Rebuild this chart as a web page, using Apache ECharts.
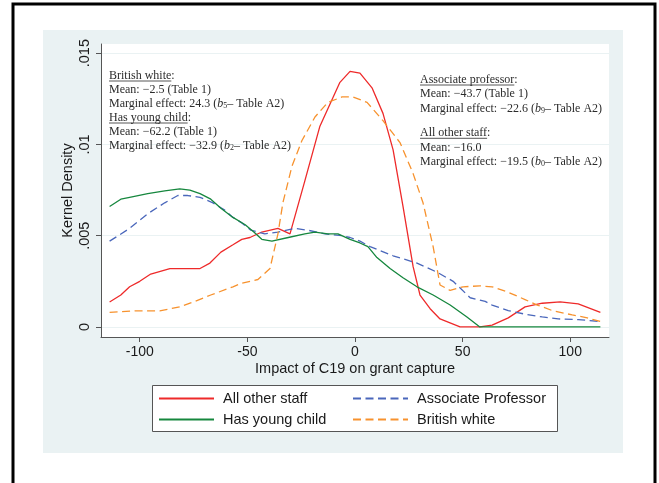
<!DOCTYPE html>
<html>
<head>
<meta charset="utf-8">
<title>Kernel density of C19 impact</title>
<script src="https://cdn.jsdelivr.net/npm/echarts@6/dist/echarts.min.js"></script>
<style>
  html, body { margin: 0; padding: 0; background: #fff; }
  #chart { width: 659px; height: 483px; }
</style>
</head>
<body>
<div id="chart"></div>
<script>
// tick values and labels
var xTicks = [-100, -50, 0, 50, 100];
var yTicks = [0, 0.005, 0.01, 0.015];
var yTickLabels = ['0', '.005', '.01', '.015'];

// legend columns
var legendLeftCol = ['All other staff', 'Has young child'];
var legendRightCol = ['Associate Professor', 'British white'];

// [impact, density]
var allOtherStaff = [
  [-114, 0.00137], [-108.8, 0.00175], [-104.7, 0.0022], [-100, 0.0025], [-94.9, 0.0029],
  [-86, 0.0032], [-77.7, 0.0032], [-72, 0.0032], [-67.4, 0.0035], [-62.3, 0.0041],
  [-56.7, 0.0045], [-52.6, 0.0048], [-48.8, 0.0049], [-43.3, 0.0052], [-35.8, 0.0054],
  [-30.2, 0.0051], [-23.3, 0.0080], [-16.3, 0.0110], [-7, 0.0134], [-2.3, 0.0140],
  [2.3, 0.0139], [7.9, 0.0131], [13, 0.0117], [17.7, 0.0097], [22.3, 0.0066],
  [27, 0.0033], [30.2, 0.00175], [34.9, 0.0010], [39.5, 0.00044], [48.8, 0.0],
  [58, 0.0], [63.7, 0.0001], [71.2, 0.0005], [79, 0.0011], [87, 0.0013],
  [95.3, 0.00137], [103.7, 0.00126], [114, 0.0008]
];

var associateProfessor = [
  [-114, 0.0047], [-104.7, 0.0054], [-96.3, 0.0062], [-88.4, 0.0068], [-82.3, 0.0072],
  [-77.7, 0.0072], [-72, 0.0071], [-66, 0.0068], [-60.5, 0.0064], [-56.7, 0.0060],
  [-52.6, 0.0057], [-48.4, 0.0053], [-41.9, 0.0051], [-35.8, 0.0052], [-27.9, 0.0054],
  [-21.9, 0.0053], [-14, 0.0051], [-6, 0.0050], [-2.3, 0.0049], [2.3, 0.0047],
  [7, 0.0044], [17.7, 0.0039], [28.8, 0.0035], [38.1, 0.0030], [45.6, 0.0025],
  [53.5, 0.0016], [60.5, 0.0014], [63.7, 0.0012], [71.2, 0.0009], [79, 0.0007],
  [87, 0.00055], [94.4, 0.00044], [103.7, 0.0004], [114, 0.0003]
];

var hasYoungChild = [
  [-114, 0.0066], [-108.8, 0.0070], [-104.7, 0.0071], [-96.3, 0.0073], [-88.4, 0.00745],
  [-81.4, 0.00756], [-76.7, 0.0075], [-72, 0.0073], [-67, 0.0070], [-62.3, 0.0065],
  [-56.7, 0.0060], [-51, 0.0056], [-47, 0.0052], [-43.3, 0.0048], [-38.6, 0.0047],
  [-31, 0.0049], [-23.3, 0.0051], [-18.6, 0.0052], [-12.6, 0.0051], [-7.9, 0.0051],
  [-2.3, 0.0048], [2.3, 0.0046], [6, 0.0044], [10.2, 0.0038], [16.3, 0.0032],
  [22.3, 0.0027], [28.8, 0.0022], [36.3, 0.00175], [44.2, 0.0012], [52, 0.00055],
  [58, 0], [70, 0], [85, 0], [100, 0], [114, 0]
];

var britishWhite = [
  [-114, 0.0008], [-102.3, 0.00088], [-90.7, 0.00088], [-81.4, 0.0011], [-74.4, 0.0014],
  [-67, 0.00175], [-56.7, 0.0022], [-52.6, 0.0024], [-45.1, 0.0026], [-39.5, 0.0032],
  [-35.8, 0.0051], [-33.5, 0.0068], [-29.3, 0.0088], [-24.7, 0.0102], [-18.6, 0.0115],
  [-12.6, 0.0123], [-6, 0.0126], [-0.9, 0.0126], [5.6, 0.0123], [13, 0.0113],
  [20.9, 0.0101], [27, 0.0084], [31.6, 0.0068], [36.3, 0.0044], [39.5, 0.0023],
  [44.2, 0.0020], [50.2, 0.0022], [58, 0.00225], [63.7, 0.0022], [71.2, 0.0019],
  [79, 0.0015], [84.7, 0.0012], [91.6, 0.0009], [100.9, 0.00066], [107.9, 0.0005],
  [114, 0.0003]
];

var SANS = "'Liberation Sans', Arial, sans-serif";
var SERIF = "'Liberation Serif', 'Times New Roman', serif";
var NOTE_SIZE = 12;
var NOTE_COLOR = '#2b2b2b';

// notes: text, underlined part (or null)
var leftNotes = [
  ['British white:', 'British white'],
  ['Mean: \u22122.5 (Table 1)', null],
  ['Marginal effect: 24.3 ({i|b}{s|5}\u2013 Table A2)', null],
  ['Has young child:', 'Has young child'],
  ['Mean: \u221262.2 (Table 1)', null],
  ['Marginal effect: \u221232.9 ({i|b}{s|2}\u2013 Table A2)', null]
];
var rightNotes = [
  ['Associate professor:', 'Associate professor'],
  ['Mean: \u221243.7 (Table 1)', null],
  ['Marginal effect: \u221222.6 ({i|b}{s|9}\u2013 Table A2)', null],
  ['All other staff:', 'All other staff'],
  ['Mean: \u221216.0', null],
  ['Marginal effect: \u221219.5 ({i|b}{s|0}\u2013 Table A2)', null]
];

var measureCtx = document.createElement('canvas').getContext('2d');
measureCtx.font = NOTE_SIZE + "px " + SERIF;

var richNote = {
  i: { fontFamily: SERIF, fontSize: NOTE_SIZE, fontStyle: 'italic', fill: NOTE_COLOR },
  s: { fontFamily: SERIF, fontSize: 8, fill: NOTE_COLOR, verticalAlign: 'bottom' }
};

function noteBlock(lines, x, ys) {
  var out = [];
  lines.forEach(function (ln, k) {
    out.push({
      type: 'text', x: x, y: ys[k], z: 100,
      style: {
        text: ln[0], fontFamily: SERIF, fontSize: NOTE_SIZE, fill: NOTE_COLOR,
        verticalAlign: 'middle', align: 'left', rich: richNote
      }
    });
    if (ln[1]) {
      var w = measureCtx.measureText(ln[1]).width;
      out.push({
        type: 'line', z: 100,
        shape: { x1: x, y1: ys[k] + 5, x2: x + w, y2: ys[k] + 5 },
        style: { stroke: NOTE_COLOR, lineWidth: 0.8 }
      });
    }
  });
  return out;
}

var graphics = [
  { type: 'rect', z: -20, silent: true, shape: { x: 13, y: 4, width: 642, height: 500 },
    style: { fill: '#fff', stroke: '#000', lineWidth: 3 } },
  { type: 'rect', z: -10, silent: true, shape: { x: 43, y: 30, width: 580, height: 423 },
    style: { fill: '#eaf2f3' } },
  // legend frame
  { type: 'rect', z: -5, silent: true, shape: { x: 152.5, y: 385.5, width: 405, height: 46 },
    style: { fill: '#fff', stroke: '#555', lineWidth: 1 } }
].concat(
  noteBlock(leftNotes, 109, [76, 90, 104, 118, 132, 146]),
  noteBlock(rightNotes, 420, [80, 94.3, 108.7, 133.3, 147.7, 162])
);

function lineSeries(name, data, color, dashed) {
  return {
    name: name, type: 'line', data: data, showSymbol: false, symbol: 'none',
    smooth: false, animation: false,
    lineStyle: { color: color, width: 1.3, type: dashed ? [8, 4.5] : 'solid' },
    itemStyle: { color: color }
  };
}

function legendCol(names, left) {
  return {
    data: names, orient: 'vertical',
    left: left, top: 391, padding: 0,
    itemWidth: 55, itemHeight: 14, itemGap: 6,
    itemStyle: { opacity: 0 },
    formatter: function (name) { return ' ' + name; },
    textStyle: { fontFamily: SANS, fontSize: 14.5, color: '#1a1a1a' }
  };
}

var chart = echarts.init(document.getElementById('chart'), null, { renderer: 'canvas' });

chart.setOption({
  animation: false,
  backgroundColor: '#fff',
  graphic: graphics,
  grid: {
    left: 101, right: 50, top: 44, bottom: 146,
    show: true, backgroundColor: '#fff', borderWidth: 0
  },
  legend: [legendCol(legendLeftCol, 158), legendCol(legendRightCol, 352)],
  xAxis: {
    type: 'value', min: -118, max: 118,
    name: 'Impact of C19 on grant capture',
    nameLocation: 'middle', nameGap: 24, nameMoveOverlap: false,
    nameTextStyle: { fontFamily: SANS, fontSize: 14.5, color: '#1a1a1a' },
    axisLine: { show: true, onZero: false, lineStyle: { color: '#555', width: 1 } },
    axisTick: { show: true, length: 5, customValues: xTicks, lineStyle: { color: '#555' } },
    axisLabel: {
      customValues: xTicks, margin: 8,
      fontFamily: SANS, fontSize: 14, color: '#1a1a1a'
    },
    splitLine: { show: false }
  },
  yAxis: {
    type: 'value', min: -0.00055, max: 0.0155,
    name: 'Kernel Density',
    nameLocation: 'middle', nameGap: 26, nameMoveOverlap: false,
    nameTextStyle: { fontFamily: SANS, fontSize: 14.5, color: '#1a1a1a' },
    axisLine: { show: true, onZero: false, lineStyle: { color: '#555', width: 1 } },
    axisTick: { show: true, length: 5, customValues: yTicks, lineStyle: { color: '#555' } },
    axisLabel: {
      customValues: yTicks, rotate: 90, margin: 9,
      fontFamily: SANS, fontSize: 14.5, color: '#1a1a1a',
      formatter: function (v) {
        for (var k = 0; k < yTicks.length; k++) {
          if (Math.abs(yTicks[k] - v) < 1e-9) return yTickLabels[k];
        }
        return '';
      }
    },
    splitLine: { show: true, lineStyle: { color: '#eaf2f3', width: 1.2 } }
  },
  series: [
    lineSeries('All other staff', allOtherStaff, '#ee2a2a', false),
    lineSeries('Associate Professor', associateProfessor, '#4a67bb', true),
    lineSeries('Has young child', hasYoungChild, '#16873e', false),
    lineSeries('British white', britishWhite, '#f7922e', true)
  ]
});
</script>
</body>
</html>
